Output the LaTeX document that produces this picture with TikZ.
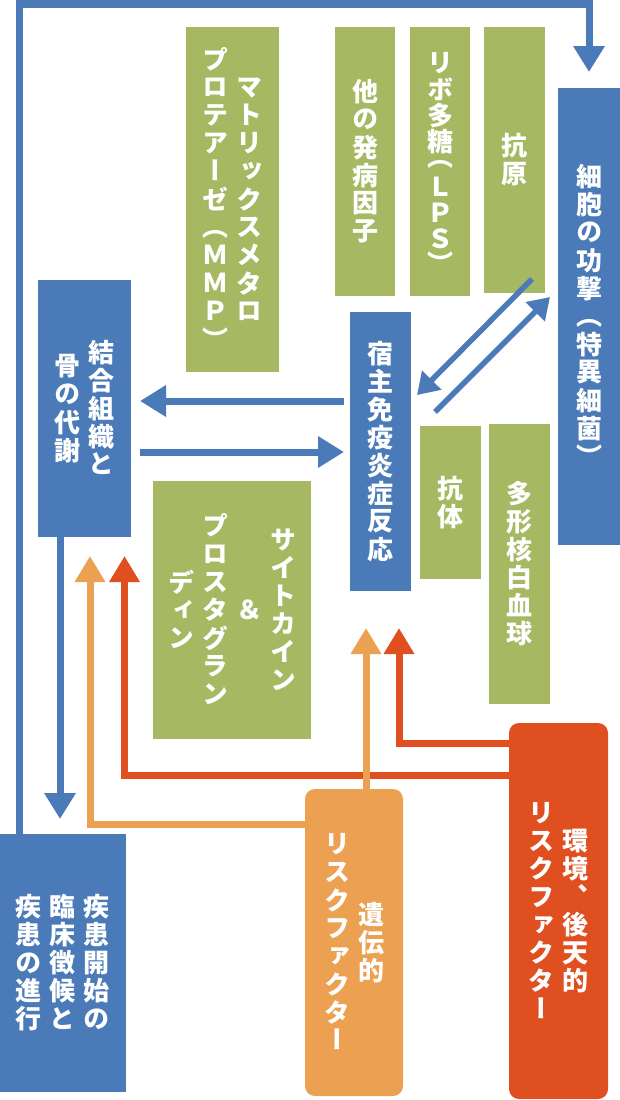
\documentclass[tikz,border=0pt]{standalone}
\usepackage{fontspec}
\newfontfamily\jp[RawFeature=+vert]{Noto Sans CJK JP}
\usetikzlibrary{arrows.meta}
\definecolor{cblue}{HTML}{4A7BB8}
\definecolor{cgreen}{HTML}{A6B862}
\definecolor{corange}{HTML}{ECA052}
\definecolor{cred}{HTML}{E04F20}
\ExplSyntaxOn
\NewDocumentCommand\vcol{m}{
  $\vcenter{\offinterlineskip
    \tl_map_inline:nn {#1}{\hbox_to_wd:nn{34pt}{\hss\vbox_to_ht:nn{28pt}{\vss\hbox{\vphantom{国}##1}\vss}\hss}}
  }$
}
% full cell and half cell, for columns built by hand
\NewDocumentCommand\fcell{m}{\hbox_to_wd:nn{34pt}{\hss\vbox_to_ht:nn{26pt}{\vss\hbox{\vphantom{国}#1}\vss}\hss}}
\NewDocumentCommand\hcell{m}{\hbox_to_wd:nn{34pt}{\hss\vbox_to_ht:nn{20pt}{\vss\hbox{#1}\vss}\hss}}
\NewDocumentCommand\vhand{m}{$\vcenter{\offinterlineskip #1}$}
\ExplSyntaxOff
\tikzset{
  box/.style={draw=none, inner sep=0pt, outer sep=0pt, text=white,
    font=\jp\bfseries\fontsize{26}{28}\selectfont},
  bbox/.style={box, fill=cblue},
  gbox/.style={box, fill=cgreen},
  obox/.style={box, fill=corange, rounded corners=10pt},
  rbox/.style={box, fill=cred, rounded corners=10pt},
  bluearr/.style={draw=cblue, line width=7pt, -{Triangle[length=26pt,width=30pt]}},
  diagarr/.style={draw=cblue, line width=5.5pt, -{Triangle[length=21pt,width=26pt]}},
  orgarr/.style={draw=corange, line width=7pt, -{Triangle[length=26pt,width=29pt]}},
  redarr/.style={draw=cred, line width=7pt, -{Triangle[length=26pt,width=29pt]}}
}
\begin{document}
\begin{tikzpicture}[x=1pt,y=-1pt]
\fill[white] (0,0) rectangle (620,1100);
\useasboundingbox (0,0) rectangle (620,1100);
% boxes
\node[gbox, minimum width=93, minimum height=345] (mmp) at (232.5,199.5)
  {\vcol{プロテアーゼ（ＭＭＰ）}\vcol{マトリックスメタロ}};
\node[gbox, minimum width=60, minimum height=269] (other) at (365,161.5) {\vcol{他の発病因子}};
\node[gbox, minimum width=60, minimum height=269] (lps) at (440,161.5)
  {\vhand{\fcell{リ}\fcell{ボ}\fcell{多}\fcell{糖}\hcell{（}\fcell{Ｌ}\fcell{Ｐ}\fcell{Ｓ}\hcell{）}}};
\node[gbox, minimum width=61, minimum height=266] (antigen) at (514.5,160) {\vcol{抗原}};
\node[bbox, minimum width=62, minimum height=457] (attack) at (589,316.5) {\vcol{細胞の功撃（特異細菌）}};
\node[bbox, minimum width=93, minimum height=257] (tissue) at (84.5,408.5) {\vcol{骨の代謝}\vcol{結合組織と}};
\node[bbox, minimum width=61, minimum height=279] (host) at (380.5,451.5) {\vcol{宿主免疫炎症反応}};
\node[gbox, minimum width=61, minimum height=153] (antibody) at (450.5,502.5) {\vcol{抗体}};
\node[gbox, minimum width=61, minimum height=280] (pmn) at (519.5,564) {\vcol{多形核白血球}};
\node[gbox, minimum width=158, minimum height=258] (cyto) at (232,610)
  {\vcol{ディン}\vcol{プロスタグラン}\vcol{＆}\vcol{サイトカイン}};
\node[bbox, minimum width=126, minimum height=258] (disease) at (63,963)
  {\vcol{疾患の進行}\vcol{臨床徴候と}\vcol{疾患開始の}};
\node[obox, minimum width=98, minimum height=307] (genetic) at (354,942.5)
  {\vcol{リスクファクター}\vcol{遺伝的}};
\node[rbox, minimum width=99, minimum height=376] (environ) at (558.5,911)
  {\vcol{リスクファクター}\vcol{環境、後天的}};
% helper coordinates
\coordinate (lx) at (19,4);
\coordinate (dx) at (60,0);
\coordinate (ya) at (0,401);
\coordinate (yb) at (0,452);
\coordinate (d1a) at (532,279);
\coordinate (d1b) at (417,395);
\coordinate (d2a) at (435,412);
\coordinate (d2b) at (550,297);
\coordinate (xo) at (90,0);
\coordinate (yo) at (0,824.5);
\coordinate (xo2) at (366,0);
\coordinate (xr) at (124.5,0);
\coordinate (yr) at (0,775.5);
\coordinate (xr2) at (399,0);
\coordinate (yr2) at (0,743);
% red connectors
\draw[redarr, shorten >=19pt] (environ.west |- yr) -| (tissue.south -| xr);
\draw[redarr, shorten >=37pt] (environ.west |- yr2) -| (host.south -| xr2);
% orange connectors
\draw[orgarr, shorten >=19pt] (genetic.west |- yo) -| (tissue.south -| xo);
\draw[orgarr, shorten >=37pt] (genetic.north -| xo2) -- (host.south -| xo2);
% blue connectors
\draw[bluearr, shorten >=16pt] (disease.north -| lx) -- (lx) -| (attack.north);
\draw[bluearr, shorten >=15pt] (tissue.south -| dx) -- (disease.north -| dx);
\draw[bluearr, shorten <=6pt, shorten >=9pt] (host.west |- ya) -- (tissue.east |- ya);
\draw[bluearr, shorten <=9pt, shorten >=6pt] (tissue.east |- yb) -- (host.west |- yb);
\draw[diagarr] (d1a) -- (d1b);
\draw[diagarr] (d2a) -- (d2b);
\end{tikzpicture}
\end{document}
